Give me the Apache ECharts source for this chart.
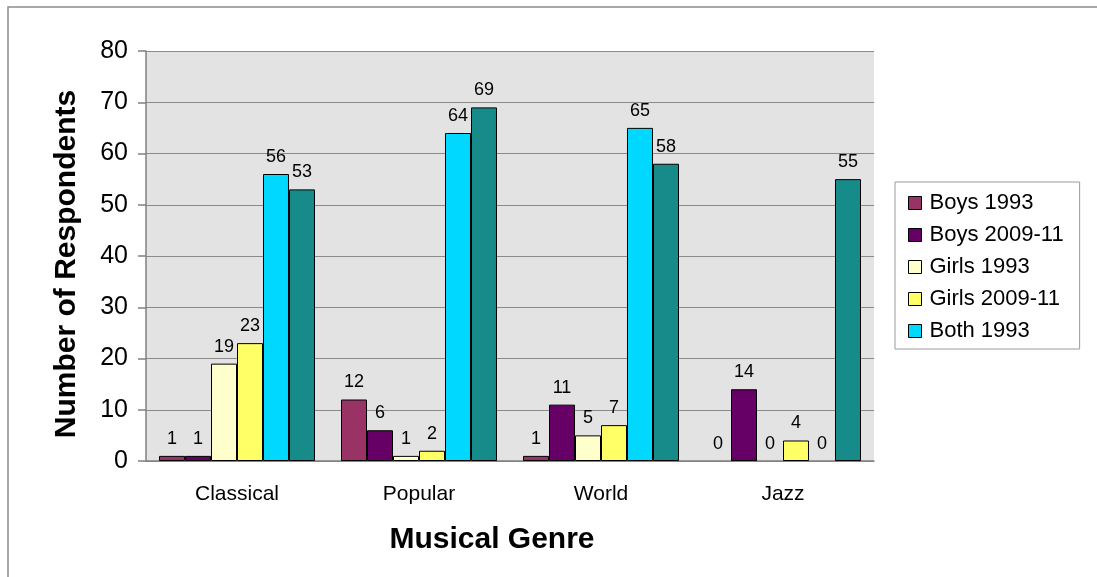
<!DOCTYPE html>
<html>
<head>
<meta charset="utf-8">
<script src="https://cdn.jsdelivr.net/npm/echarts@6/dist/echarts.min.js"></script>
<style>
  html, body { margin: 0; padding: 0; background: #fff; }
  #chart { width: 1097px; height: 577px; }
</style>
</head>
<body>
<div id="chart"></div>
<script>
// Respondents by musical genre, survey groups 1993 vs 2009-11
const genres = ['Classical', 'Popular', 'World', 'Jazz'];
const boys1993 = [1, 12, 1, 0];
const boys2009 = [1, 6, 11, 14];
const girls1993 = [19, 1, 5, 0];
const girls2009 = [23, 2, 7, 4];
const both1993 = [56, 64, 65, 0];
const both2009 = [53, 69, 58, 55];
const yTicks = [0, 10, 20, 30, 40, 50, 60, 70, 80];

const seriesDefs = [
  { name: 'Boys 1993', data: boys1993, color: '#993366' },
  { name: 'Boys 2009-11', data: boys2009, color: '#660066' },
  { name: 'Girls 1993', data: girls1993, color: '#FFFFCC' },
  { name: 'Girls 2009-11', data: girls2009, color: '#FFFF66' },
  { name: 'Both 1993', data: both1993, color: '#00D8FF' },
  { name: 'Both 2009-11', data: both2009, color: '#178A8A' }
];

const font = 'Liberation Sans, Arial, sans-serif';
const chart = echarts.init(document.getElementById('chart'));

// zero-height bars get no outline so only their value label shows
const toItems = values => values.map(v =>
  v === 0 ? { value: v, itemStyle: { borderWidth: 0 } } : v
);

chart.setOption({
  animation: false,
  backgroundColor: '#ffffff',
  textStyle: { fontFamily: font },
  graphic: [{
    type: 'rect',
    shape: { x: 8, y: 7, width: 1200, height: 700 },
    style: { fill: 'none', stroke: '#8c8c8c', lineWidth: 1.5 },
    silent: true,
    z: -10
  }],
  grid: {
    left: 146, top: 51, width: 728, height: 410,
    show: true, backgroundColor: '#E3E3E3', borderWidth: 0
  },
  legend: {
    data: seriesDefs.slice(0, 5).map(s => s.name),
    orient: 'vertical',
    left: 895, top: 182,
    padding: [10, 16, 7, 13],
    itemGap: 10,
    itemWidth: 13, itemHeight: 13,
    icon: 'rect',
    borderColor: '#9a9a9a', borderWidth: 1,
    backgroundColor: '#ffffff',
    textStyle: { fontFamily: font, fontSize: 22, lineHeight: 22, color: '#000', padding: [0, 0, 0, 3] },
    itemStyle: { borderColor: '#000', borderWidth: 1 }
  },
  xAxis: {
    type: 'category',
    data: genres,
    name: 'Musical Genre',
    nameLocation: 'middle',
    nameGap: 64,
    nameTextStyle: {
      fontFamily: font, fontSize: 30, fontWeight: 'bold', color: '#000',
      padding: [0, 36, 0, 0]
    },
    axisLine: { lineStyle: { color: '#808080', width: 1.5 } },
    axisTick: { length: 12, lineStyle: { color: '#808080', width: 1.5 } },
    axisLabel: { fontFamily: font, fontSize: 21, color: '#000', margin: 23 }
  },
  yAxis: {
    type: 'value',
    min: yTicks[0], max: yTicks[yTicks.length - 1], interval: 10,
    name: 'Number of Respondents',
    nameLocation: 'middle',
    nameGap: 64,
    nameTextStyle: {
      fontFamily: font, fontSize: 30, fontWeight: 'bold', color: '#000',
      padding: [0, 16, 0, 0]
    },
    axisLine: { show: true, lineStyle: { color: '#808080', width: 1.5 } },
    axisTick: { show: true, inside: false, length: 8, lineStyle: { color: '#808080', width: 1.5 } },
    axisLabel: { fontFamily: font, fontSize: 25, color: '#000', margin: 18 },
    splitLine: { lineStyle: { color: '#8a8a8a', width: 1 } }
  },
  series: seriesDefs.map(s => ({
    type: 'bar',
    name: s.name,
    data: toItems(s.data),
    barGap: '0%',
    barCategoryGap: '14.3%',
    itemStyle: { color: s.color, borderColor: '#000', borderWidth: 1 },
    label: {
      show: true,
      position: 'top',
      distance: 8,
      fontFamily: font,
      fontSize: 18,
      color: '#000'
    }
  }))
});
</script>
</body>
</html>
